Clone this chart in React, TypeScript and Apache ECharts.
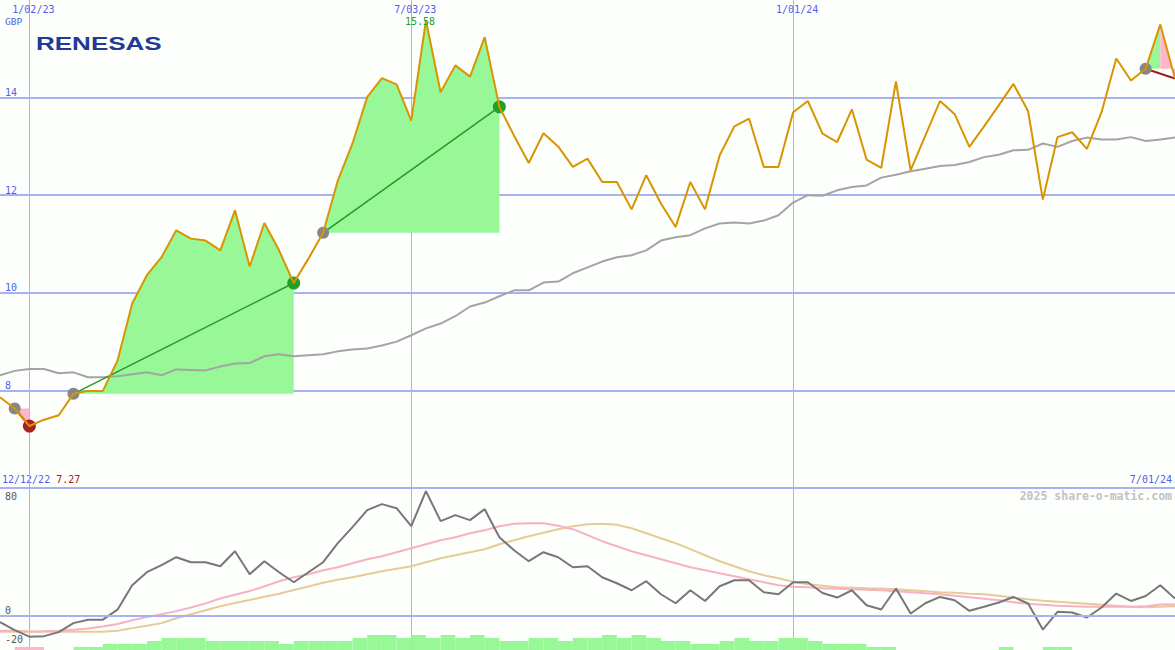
import React, { useEffect, useRef } from "react";
import * as echarts from "echarts";

function weekLabel(i: number): string {
  const d = new Date(2022, 11, 19 + 7 * i);
  return `${d.getMonth() + 1}/${String(d.getDate()).padStart(2, "0")}/${String(d.getFullYear() % 100).padStart(2, "0")}`;
}

// weekly categories
const DATES: string[] = Array.from({ length: 81 }, (_, i) => weekLabel(i));
const TOP_TICKS = ["1/02/23", "7/03/23", "1/01/24"];
const PRICE_LABELS = [8, 10, 12, 14];
const OSC_LABELS = [-20, 0, 80];

const PRICE = [
  7.86, 7.63, 7.27, 7.40, 7.49, 7.93, 7.99, 7.99, 8.61, 9.78,
  10.36, 10.73, 11.28, 11.11, 11.07, 10.87, 11.69, 10.54, 11.43, 10.87,
  10.20, 10.70, 11.23, 12.30, 13.06, 14.01, 14.40, 14.27, 13.53, 15.58,
  14.11, 14.66, 14.43, 15.24, 13.81, 13.22, 12.66, 13.27, 13.00, 12.58,
  12.75, 12.27, 12.27, 11.71, 12.41, 11.83, 11.35, 12.27, 11.71, 12.82,
  13.41, 13.57, 12.58, 12.58, 13.70, 13.93, 13.26, 13.09, 13.76, 12.73,
  12.56, 14.33, 12.51, 13.22, 13.93, 13.66, 12.99, 13.41, 13.84, 14.28,
  13.72, 11.91, 13.19, 13.29, 12.95, 13.70, 14.80, 14.35, 14.59, 15.50,
  14.39,
];

const MA = [
  8.31, 8.40, 8.44, 8.44, 8.35, 8.37, 8.27, 8.27, 8.29, 8.33,
  8.37, 8.31, 8.43, 8.42, 8.41, 8.49, 8.55, 8.56, 8.70, 8.74,
  8.70, 8.72, 8.74, 8.80, 8.84, 8.86, 8.92, 9.00, 9.13, 9.27,
  9.37, 9.52, 9.72, 9.80, 9.93, 10.05, 10.05, 10.21, 10.23, 10.40,
  10.52, 10.64, 10.73, 10.77, 10.87, 11.07, 11.14, 11.18, 11.32, 11.42,
  11.44, 11.42, 11.48, 11.59, 11.85, 12.00, 11.99, 12.10, 12.17, 12.20,
  12.36, 12.42, 12.49, 12.54, 12.60, 12.62, 12.68, 12.78, 12.83, 12.92,
  12.93, 13.06, 12.99, 13.11, 13.18, 13.14, 13.14, 13.19, 13.11, 13.14,
  13.18,
];

const OSC = [
  -4.5, -10.1, -14.7, -14.3, -11.5, -5.2, -2.8, -2.8, 4.2, 21.3,
  30.4, 35.3, 40.9, 37.4, 37.4, 34.6, 45.1, 29.0, 38.1, 30.4,
  23.4, 30.4, 37.4, 50.7, 61.9, 73.8, 78.0, 75.2, 62.6, 87.1,
  66.1, 70.3, 66.8, 74.5, 54.9, 45.8, 38.1, 44.4, 40.9, 33.9,
  34.6, 26.9, 22.7, 17.8, 24.1, 15.0, 8.7, 17.8, 10.3, 20.6,
  24.8, 24.8, 16.4, 15.0, 23.4, 23.4, 15.9, 12.7, 17.8, 7.3,
  4.3, 19.0, 1.5, 8.7, 13.1, 10.8, 3.4, 6.2, 9.2, 13.1,
  8.5, -9.7, 2.7, 2.2, -1.3, 5.7, 15.5, 10.3, 13.8, 21.3,
  12.0,
];

const OSC_FAST = [
  -10.6, -10.6, -11.0, -10.8, -10.5, -9.9, -8.9, -7.5, -5.8, -3.2,
  -1.0, 1.0, 3.2, 5.7, 8.6, 12.0, 14.6, 17.2, 20.5, 24.1,
  26.9, 29.0, 31.8, 33.9, 36.7, 39.5, 41.6, 44.4, 47.2, 50.0,
  52.8, 54.9, 57.7, 59.8, 62.6, 64.3, 64.7, 64.7, 62.9, 60.5,
  56.3, 52.1, 48.6, 45.1, 42.3, 39.5, 36.7, 33.9, 31.8, 29.7,
  27.6, 25.5, 23.4, 21.3, 20.3, 19.9, 19.2, 18.9, 18.5, 18.2,
  17.8, 17.1, 16.4, 15.7, 15.0, 14.0, 12.9, 11.9, 10.8, 9.4,
  8.4, 7.7, 7.0, 6.6, 6.2, 6.2, 6.2, 6.2, 6.6, 7.8,
  7.8,
];

const OSC_SLOW = [
  -11.3, -11.3, -11.3, -11.3, -11.3, -11.3, -11.3, -11.3, -10.5, -8.7,
  -7.0, -5.2, -1.8, 1.0, 3.8, 6.6, 8.9, 11.0, 13.3, 15.4,
  17.9, 20.4, 23.0, 25.2, 26.9, 29.0, 31.1, 32.9, 34.6, 37.4,
  40.2, 42.3, 44.4, 46.5, 50.0, 52.8, 55.6, 58.0, 60.5, 62.6,
  64.0, 64.3, 63.6, 61.2, 57.7, 54.2, 50.7, 46.5, 42.3, 38.1,
  34.6, 31.1, 28.3, 26.2, 23.8, 22.0, 21.0, 19.9, 19.6, 19.2,
  19.0, 18.5, 17.8, 17.1, 16.4, 16.1, 15.4, 15.0, 14.0, 12.6,
  11.5, 10.5, 9.8, 9.1, 8.4, 7.7, 7.0, 6.2, 5.9, 6.2,
  6.6,
];

// histogram, one value per weekly interval (sign = colour)
const HIST = [
  0, -1, -1, 0, 0, 1, 1, 2, 2, 2,
  3, 4, 4, 4, 3, 3, 3, 3, 3, 2,
  3, 3, 3, 3, 4, 5, 5, 4, 5, 4,
  5, 4, 5, 4, 3, 3, 4, 4, 3, 4,
  4, 5, 4, 5, 4, 3, 3, 2, 2, 3,
  4, 3, 3, 4, 4, 3, 2, 2, 2, 1,
  1, 0, 0, 0, 0, 0, 0, 0, 1, 0,
  0, 1, 1, 0, 0, 0, 0, 0, 0, 0,
];

// trades: entry week, exit week, still open
const TRADE_ENTRY = [1, 5, 22, 78];
const TRADE_EXIT = [2, 20, 34, 80];
const TRADE_OPEN = [false, false, false, true];

const MONO = '"DejaVu Sans Mono", monospace';
const BLUE_TEXT = "#4f5fe6";
const GRID_C = "#a8b2f1";
const SEP_C = "#7383ef";
const PRICE_C = "#d99400";
const MA_C = "#a4a4a4";
const FILL_UP = "#98f898";
const FILL_DOWN = "#ffb6c8";

export default function App() {
  const ref = useRef<HTMLDivElement>(null);
  useEffect(() => {
    if (!ref.current) return;
    const chart = echarts.init(ref.current, undefined, { renderer: "svg" });
    const tradeData = TRADE_ENTRY.map((e, k) => [e, PRICE[e], TRADE_EXIT[k]]);
    const isTop = (_i: number, v: string) => TOP_TICKS.includes(v);

    const option: any = {
      animation: false,
      backgroundColor: "#fdfffd",
      grid: [
        { left: 0, right: 0, top: -1, height: 489 },
        { left: 0, right: 0, top: 487, height: 163 },
        { left: 0, right: 0, top: 635, height: 15 },
      ],
      xAxis: [
        {
          gridIndex: 0, type: "category", data: DATES, boundaryGap: false, position: "top",
          axisLine: { show: false }, axisTick: { show: false },
          axisLabel: { show: true, inside: true, margin: 4, interval: isTop, color: BLUE_TEXT, fontFamily: MONO, fontSize: 10, padding: [0, 0, 0, 8] },
          splitLine: { show: true, interval: isTop, lineStyle: { color: GRID_C, width: 1 } },
        },
        {
          gridIndex: 1, type: "category", data: DATES, boundaryGap: false, position: "top",
          axisLine: { show: true, lineStyle: { color: SEP_C, width: 2 } }, axisTick: { show: false },
          axisLabel: { show: false },
          splitLine: { show: true, interval: isTop, lineStyle: { color: GRID_C, width: 1 } },
        },
        { gridIndex: 2, type: "category", data: DATES.slice(0, 80), boundaryGap: true, show: false },
      ],
      yAxis: [
        {
          gridIndex: 0, type: "value", min: 6, max: 16, interval: 2,
          axisLine: { show: false }, axisTick: { show: false },
          axisLabel: {
            inside: true, margin: 5, verticalAlign: "bottom", color: BLUE_TEXT, fontFamily: MONO, fontSize: 10,
            formatter: (v: number) => (PRICE_LABELS.includes(v) ? String(v) : ""),
          },
          splitLine: { show: true, showMaxLine: false, lineStyle: { color: GRID_C, width: 2 } },
        },
        {
          gridIndex: 1, type: "value", min: -24, max: 90,
          axisLine: { show: false }, axisTick: { show: false },
          axisLabel: {
            inside: true, margin: 5, verticalAlign: "bottom", color: "#555555", fontFamily: MONO, fontSize: 10,
            customValues: OSC_LABELS,
            formatter: (v: number) => (OSC_LABELS.includes(v) ? String(v) : ""),
          },
          splitLine: { show: false },
        },
        { gridIndex: 2, type: "value", min: 0, max: 5, show: false },
      ],
      series: [
        {
          type: "custom", xAxisIndex: 0, yAxisIndex: 0, z: 1, silent: true,
          data: tradeData, encode: { x: 0, y: 1 },
          renderItem: (params: any, api: any) => {
            const k = params.dataIndex;
            const s = TRADE_ENTRY[k];
            const e = TRADE_EXIT[k];
            const base = PRICE[s];
            const children: any[] = [];
            let i = s;
            while (i < e) {
              const up = PRICE[i + 1] >= base;
              let j = i;
              while (j < e && (PRICE[j + 1] >= base) === up) j++;
              const pts: number[][] = [api.coord([i, base])];
              for (let q = i; q <= j; q++) pts.push(api.coord([q, PRICE[q]]));
              pts.push(api.coord([j, base]));
              children.push({ type: "polygon", shape: { points: pts }, style: { fill: up ? FILL_UP : FILL_DOWN } });
              i = j;
            }
            return { type: "group", children };
          },
        },
        {
          type: "line", xAxisIndex: 0, yAxisIndex: 0, z: 2, data: MA, symbol: "none", silent: true,
          lineStyle: { color: MA_C, width: 2 },
        },
        {
          type: "custom", xAxisIndex: 0, yAxisIndex: 0, z: 3, silent: true,
          data: tradeData, encode: { x: 0, y: 1 },
          renderItem: (params: any, api: any) => {
            const k = params.dataIndex;
            const s = TRADE_ENTRY[k];
            const e = TRADE_EXIT[k];
            const a = api.coord([s, PRICE[s]]);
            const b = api.coord([e, PRICE[e]]);
            const win = PRICE[e] > PRICE[s];
            const children: any[] = [
              { type: "line", shape: { x1: a[0], y1: a[1], x2: b[0], y2: b[1] }, style: { stroke: win ? "#229a22" : "#a01818", lineWidth: win ? 1.5 : 2 } },
              { type: "circle", shape: { cx: a[0], cy: a[1], r: 6 }, style: { fill: "#868686" } },
            ];
            if (!TRADE_OPEN[k]) {
              children.push({ type: "circle", shape: { cx: b[0], cy: b[1], r: 6.5 }, style: { fill: win ? "#22a022" : "#a82020" } });
            }
            return { type: "group", children };
          },
        },
        {
          type: "line", xAxisIndex: 0, yAxisIndex: 0, z: 4, data: PRICE, symbol: "none", silent: true,
          lineStyle: { color: PRICE_C, width: 2 },
          markPoint: {
            symbol: "circle", symbolSize: 1, itemStyle: { color: "rgba(0,0,0,0)" }, silent: true,
            data: [{ type: "max" }],
            label: {
              show: true, position: "inside", offset: [-6, 1.5], color: "#22a022", fontFamily: MONO, fontSize: 10,
              formatter: (p: any) => Number(p.value).toFixed(2),
            },
          },
        },
        {
          type: "line", xAxisIndex: 1, yAxisIndex: 1, z: 2, data: OSC_SLOW, symbol: "none", silent: true,
          lineStyle: { color: "#e6cb98", width: 2 },
          markLine: {
            silent: true, symbol: "none", label: { show: false },
            lineStyle: { color: GRID_C, width: 2, type: "solid" },
            data: [{ yAxis: 0 }],
          },
        },
        {
          type: "line", xAxisIndex: 1, yAxisIndex: 1, z: 3, data: OSC_FAST, symbol: "none", silent: true,
          lineStyle: { color: "#f8b0c4", width: 2 },
        },
        {
          type: "line", xAxisIndex: 1, yAxisIndex: 1, z: 4, data: OSC, symbol: "none", silent: true,
          lineStyle: { color: "#777777", width: 2 },
        },
        {
          type: "bar", xAxisIndex: 2, yAxisIndex: 2, z: 5, silent: true,
          barCategoryGap: "0%", barGap: "0%",
          data: HIST.map((v) => ({ value: Math.abs(v), itemStyle: { color: v < 0 ? FILL_DOWN : FILL_UP } })),
        },
      ],
      graphic: [
        { type: "text", x: 5, y: 21, style: { text: "GBP", fill: BLUE_TEXT, font: `9.5px ${MONO}`, verticalAlign: "middle", align: "left" } },
        { type: "text", x: 36, y: 34, scaleX: 1.37, style: { text: "RENESAS", fill: "#233a94", font: 'bold 19px "Liberation Sans"', verticalAlign: "top", align: "left" } },
        {
          type: "text", x: 2, y: 479,
          style: {
            text: "{d|12/12/22} {v|7.27}", verticalAlign: "middle", align: "left",
            rich: {
              d: { fill: BLUE_TEXT, fontFamily: MONO, fontSize: 10 },
              v: { fill: "#a02020", fontFamily: MONO, fontSize: 10 },
            },
            font: `10px ${MONO}`,
          },
        },
        { type: "text", x: 1172, y: 479, style: { text: "7/01/24", fill: BLUE_TEXT, font: `10px ${MONO}`, verticalAlign: "middle", align: "right" } },
        { type: "text", x: 1172, y: 496, style: { text: "2025 share-o-matic.com", fill: "#c2c2c2", font: `bold 11.5px ${MONO}`, verticalAlign: "middle", align: "right" } },
      ],
    };
    chart.setOption(option);
    return () => chart.dispose();
  }, []);
  return <div ref={ref} style={{ position: "absolute", left: 0, top: 0, width: 1175, height: 650 }} />;
}
